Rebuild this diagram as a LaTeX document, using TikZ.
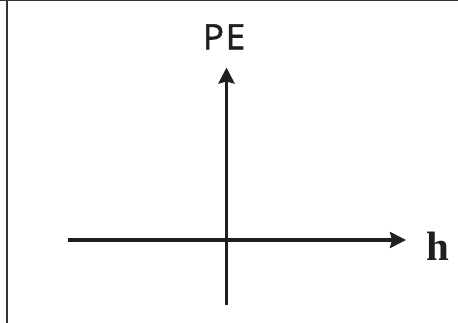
\documentclass[tikz,border=0pt]{standalone}
\usepackage{fontspec}
\usetikzlibrary{arrows.meta}
\newfontfamily\pefont[LetterSpace=5,FakeBold=1.6]{Open Sans}
\newfontfamily\hfont{Liberation Serif}
\begin{document}
\begin{tikzpicture}[x=1pt,y=-1pt,
  axis/.style={line width=3.4pt,color=black!88,-{Stealth[length=16pt,width=16pt,inset=2pt]}},
  frameline/.style={color=black!80}]
\useasboundingbox (0,0) rectangle (458,323);
\coordinate (tl) at (7,0.5);
\coordinate (tr) at (458,0.5);
\coordinate (bl) at (7,323);
\draw[frameline,line width=1pt] (0,0.5) -- (tr);
\draw[frameline,line width=2.6pt] (7,0) -- (bl);
\coordinate (xs) at (67.5,240);
\coordinate (xe) at (406,240);
\coordinate (ys) at (226.5,305);
\coordinate (ye) at (226.5,67.5);
\draw[axis] (xs) -- (xe);
\draw[axis] (ys) -- (ye);
\node[inner sep=0pt,anchor=base,text=black!88] (pe) at (224,49.3) {\fontsize{35}{35}\selectfont\pefont PE};
\node[inner sep=0pt,anchor=base,text=black!88] (h) at (438,261) {\fontsize{41}{41}\selectfont\hfont\bfseries h};
\end{tikzpicture}
\end{document}
